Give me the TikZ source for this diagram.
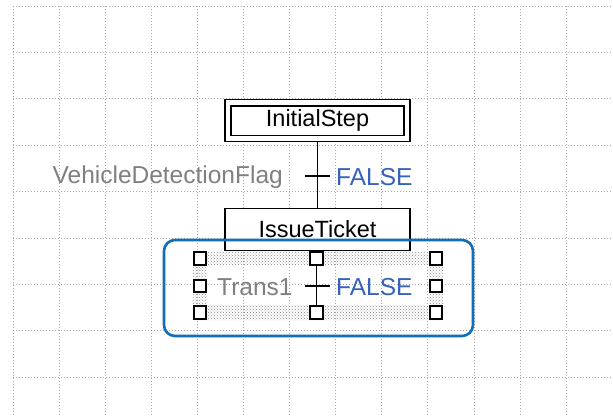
\documentclass[tikz,border=0pt]{standalone}
\usepackage{fontspec}
\setmainfont{Liberation Sans}
\usetikzlibrary{patterns}
\definecolor{gridc}{RGB}{170,170,170}
\definecolor{lblgray}{RGB}{128,128,128}
\definecolor{falseblue}{RGB}{55,98,185}
\definecolor{selblue}{RGB}{16,110,186}
\tikzset{
  gridline/.style={gridc, line width=1pt, dash pattern=on 1pt off 2pt},
  stepbox/.style={draw=black, fill=white, line width=1.8pt, minimum width=185pt, minimum height=42pt, inner sep=0pt, font=\fontsize{23.5}{27}\selectfont},
  lbl/.style={lblgray, inner sep=0pt, font=\fontsize{24.5}{28}\selectfont},
  falselbl/.style={falseblue, inner sep=0pt, font=\fontsize{24.5}{28}\selectfont},
  handle/.style={draw=black, fill=white, line width=1.8pt, minimum size=12.5pt, inner sep=0pt},
  link/.style={black, line width=1.8pt},
  selbox/.style={selblue, line width=2.6pt, rounded corners=11pt}
}
\begin{document}
\begin{tikzpicture}[x=1pt,y=-1pt]
\useasboundingbox (0,0) rectangle (613,416);
\fill[white] (0,0) rectangle (613,416);
\foreach \i in {0,...,12} \draw[gridline] ({13+46.1*\i},6) -- ({13+46.1*\i},416);
\foreach \j in {0,...,8} \draw[gridline] (13,{6+46.4*\j}) -- (613,{6+46.4*\j});

% selection stipple band
\fill[pattern=crosshatch dots, pattern color=gray!90, even odd rule]
  (193,252) rectangle (443,320) (207,265) rectangle (429,305);

% steps
\node[stepbox] (init) at (317.5,120.5) {InitialStep};
\draw[line width=1.8pt] ([xshift=7pt,yshift=-7pt]init.north west) rectangle ([xshift=-7pt,yshift=7pt]init.south east);
\node[stepbox] (issue) at (317.5,229.5) {IssueTicket};

% transition 1
\coordinate (t1) at (317,176);
\coordinate (t1l) at (305,176);
\coordinate (t1r) at (330,176);
\draw[link] (init.south) -- (issue.north);
\draw[link] (t1l) -- (t1r);
\node[lbl, anchor=east] (cond1) at (283,177) {VehicleDetectionFlag};
\node[falselbl, anchor=west] (f1) at (336,177) {FALSE};

% transition 2 (selected)
\node[handle] (h11) at (200,258.5) {};
\node[handle] (h12) at (316.5,258.5) {};
\node[handle] (h13) at (436,258.5) {};
\node[handle] (h21) at (200,286) {};
\node[handle] (h23) at (436,286) {};
\node[handle] (h31) at (200,312.5) {};
\node[handle] (h32) at (316.5,312.5) {};
\node[handle] (h33) at (436,312.5) {};
\coordinate (t2l) at (305,286);
\coordinate (t2r) at (330,286);
\draw[link] (h12.south) -- (h32.north);
\draw[link] (issue.south) -- (h12.north);
\draw[link] (t2l) -- (t2r);
\node[lbl, anchor=west] (cond2) at (217,287) {Trans1};
\node[falselbl, anchor=west] (f2) at (336,287) {FALSE};

% selection frame
\draw[selbox] (164,240) rectangle (473,336);
\end{tikzpicture}
\end{document}
